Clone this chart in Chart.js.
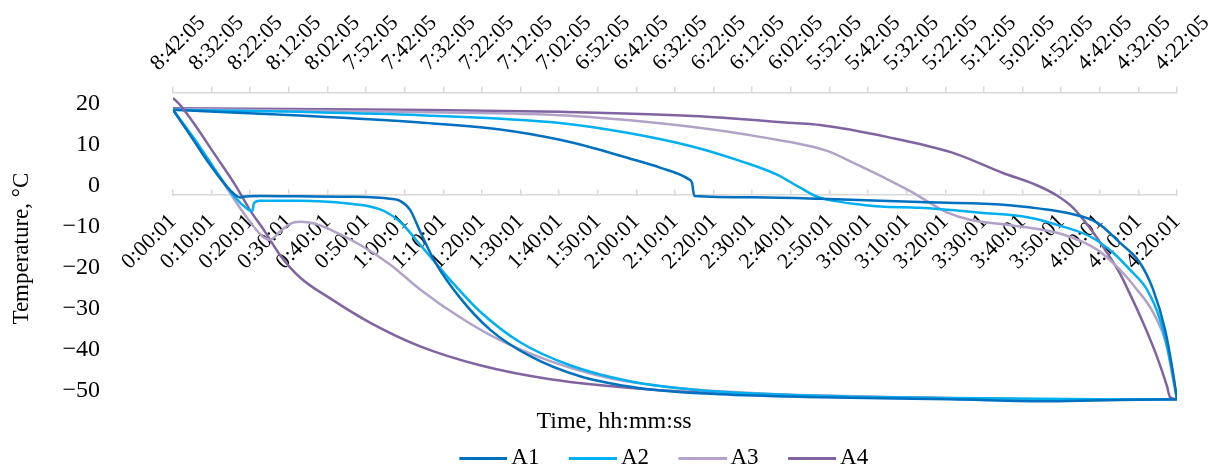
<!DOCTYPE html>
<html>
<head>
<meta charset="utf-8">
<script src="https://cdn.jsdelivr.net/npm/chart.js@4.4.1/dist/chart.umd.min.js"></script>
<style>
  html, body { margin: 0; padding: 0; background: #fff; }
  #wrap { width: 1228px; height: 468px; }
</style>
</head>
<body>
<div id="wrap"><canvas id="myChart" width="1228" height="468"></canvas></div>
<script>
// cooling runs (bottom axis, minutes since 0:00:01)
const coolA1Time = [0, 4.4, 9.6, 14.7, 17.4, 18.1, 22.5, 32.9, 45.8, 56.2, 58.8, 61.4, 64, 67.8, 74.3, 82.1, 92.5, 105.4, 120.9, 141.7, 167.6, 201.2, 227.1, 245.2, 260];
const coolA1Temp = [18.4, 12.3, 5.0, -1.1, -3.0, -2.8, -2.6, -2.7, -2.8, -3.3, -3.8, -6.0, -11.3, -18.6, -27.4, -35.2, -41.7, -46.6, -49.5, -51.0, -51.7, -52.2, -52.7, -52.4, -52.2];

const coolA2Time = [0, 5.7, 10.9, 16.1, 19.4, 20.5, 21.0, 22.5, 32.9, 45.8, 51, 54.9, 58.8, 64, 71.7, 79.5, 89.9, 102.8, 118.3, 136.5, 162.4, 201, 240, 260];
const coolA2Temp = [18.4, 11.1, 3.8, -3.0, -5.9, -6.4, -4.3, -3.8, -3.8, -4.5, -5.2, -6.4, -8.9, -14.5, -23.0, -30.8, -38.3, -43.9, -47.8, -50.0, -51.2, -51.9, -52.2, -52.2];

const coolA3Time = [0, 5.7, 12.2, 18.6, 23, 25.1, 27.7, 30.3, 32.9, 36.8, 40.7, 48.4, 56.2, 64, 74.3, 84.7, 97.7, 113.2, 131.3, 157.2, 188.3, 227.1, 260];
const coolA3Temp = [18.4, 10.6, 1.8, -7.2, -12.3, -13.3, -11.3, -9.4, -8.9, -9.4, -10.8, -14.5, -19.3, -25.4, -32.2, -37.8, -42.9, -47.1, -49.5, -51.0, -51.7, -52.2, -52.2];

const coolA4Time = [0, 1.8, 5.7, 10.9, 16.1, 19.9, 23.8, 27.7, 32.9, 40.7, 51, 64, 79.5, 97.7, 123.5, 149.4, 188.3, 227.1, 260];
const coolA4Temp = [21.3, 19.6, 14.7, 7.4, 0.1, -6.0, -11.3, -17.0, -22.5, -27.6, -33.5, -39.3, -43.9, -47.3, -49.8, -51.0, -51.7, -52.2, -52.2];

// warming runs (top axis, minutes since 4:22:05)
const warmA1Time = [0, 1.3, 3.1, 6.2, 9.6, 14.8, 20.7, 27.7, 35.5, 45.8, 66.5, 92.4, 110, 125.0, 125.6, 126.5, 133.9, 142.4, 151.2, 159.8, 175.3, 196, 227.1, 260];
const warmA1Temp = [-52.2, -44.2, -35.2, -25.4, -18.9, -14.0, -9.1, -6.9, -5.7, -4.7, -4.1, -3.3, -2.9, -2.6, 0.6, 1.5, 4.3, 6.7, 9.1, 11.1, 13.6, 15.3, 17.0, 18.4];

const warmA2Time = [0, 1.3, 4.4, 7.8, 12.2, 16.6, 22.5, 29.5, 38.1, 51, 66.6, 76.9, 82.1, 90.6, 93.2, 97.6, 103.6, 112.4, 125.3, 142.4, 159.8, 196, 227.1, 260];
const warmA2Temp = [-52.2, -45, -32.8, -25.4, -20.6, -16.4, -12.5, -10.1, -7.9, -6.7, -5.5, -5.2, -4.7, -3.5, -2.8, -0.6, 2.6, 5.7, 9.4, 12.8, 15.2, 17.1, 17.9, 18.4];

const warmA3Time = [0, 1.3, 2.6, 6.2, 10.4, 14.8, 20.7, 29.5, 42.5, 53.6, 59.6, 64, 68.4, 75.1, 83.9, 90.6, 108, 125.3, 142.4, 159.8, 201.2, 260];
const warmA3Temp = [-52.2, -46, -39.3, -31, -25.4, -20.6, -15.7, -12.0, -9.8, -8.4, -6.6, -4.3, -1.8, 1.5, 5.5, 8.4, 11.8, 14.2, 15.9, 17.1, 17.9, 18.6];

const warmA4Time = [0, 1.8, 2.6, 5.2, 8.8, 12.2, 14.8, 18.1, 22.5, 26.9, 31.1, 36.3, 45.1, 58, 75.1, 92.4, 99.4, 125.3, 159.8, 201.2, 260];
const warmA4Temp = [-52.2, -51.7, -49, -41.8, -33.5, -26.5, -21.5, -16.5, -10.5, -5.5, -2.5, 0, 3.0, 7.9, 11.8, 14.7, 15.2, 16.9, 17.9, 18.4, 18.8];

const names = ['A1', 'A2', 'A3', 'A4'];
const colors = ['#0070C0', '#00B0F0', '#B3A2C7', '#8064A2'];
const coolTimes = [coolA1Time, coolA2Time, coolA3Time, coolA4Time];
const coolTemps = [coolA1Temp, coolA2Temp, coolA3Temp, coolA4Temp];
const warmTimes = [warmA1Time, warmA2Time, warmA3Time, warmA4Time];
const warmTemps = [warmA1Temp, warmA2Temp, warmA3Temp, warmA4Temp];

const yTicks = [20, 10, 0, -10, -20, -30, -40, -50];

function pad(n) { return n < 10 ? '0' + n : '' + n; }
function hms(sec) {
    let h = Math.floor(sec / 3600);
    let m = Math.floor((sec % 3600) / 60);
    let s = sec % 60;
    return h + ':' + pad(m) + ':' + pad(s);
}

function series(times, temps) {
    return times.map((t, i) => ({ x: t, y: temps[i] }));
}

// legend swatch: a short line that sits close to the text
function legendLine(color) {
    let c = document.createElement('canvas');
    c.width = 63;
    c.height = 3;
    let g = c.getContext('2d');
    g.fillStyle = color;
    g.fillRect(15, 0, 48, 3);
    return c;
}

let datasets = [];
names.forEach((n, i) => {
    datasets.push({
        label: n,
        data: series(coolTimes[i], coolTemps[i]),
        xAxisID: 'x',
        borderColor: colors[i],
        backgroundColor: colors[i],
        borderWidth: 2.5,
        pointRadius: 0,
        pointStyle: legendLine(colors[i]),
        cubicInterpolationMode: 'monotone',
        fill: false
    });
});
names.forEach((n, i) => {
    datasets.push({
        label: n + ' warm',
        data: series(warmTimes[i], warmTemps[i]),
        xAxisID: 'x2',
        borderColor: colors[i],
        backgroundColor: colors[i],
        borderWidth: 2.5,
        pointRadius: 0,
        cubicInterpolationMode: 'monotone',
        fill: false
    });
});

// nudge the legend a little left of the plot centre
const legendShift = {
    id: 'legendShift',
    afterLayout(chart) {
        chart.legend.left -= 15;
        chart.legend.right -= 15;
    }
};

Chart.defaults.font.family = '"Liberation Serif", "Times New Roman", serif';
Chart.defaults.color = '#000';

const ctx = document.getElementById('myChart').getContext('2d');
const myChart = new Chart(ctx, {
    type: 'line',
    data: { datasets: datasets },
    plugins: [legendShift],
    options: {
        responsive: false,
        animation: false,
        layout: { padding: { top: 0, left: 0, right: 0, bottom: -11.5 } },
        plugins: {
            legend: {
                position: 'bottom',
                fullSize: false,
                labels: {
                    usePointStyle: true,
                    pointStyleWidth: 48,
                    font: { size: 23 },
                    padding: 22,
                    filter: item => item.datasetIndex < 4
                }
            },
            title: {
                display: true,
                position: 'bottom',
                text: 'Time, hh:mm:ss',
                weight: 500,
                font: { size: 24, weight: 'normal' },
                padding: { top: 3, bottom: -11.9 }
            },
            tooltip: { enabled: false }
        },
        scales: {
            y: {
                type: 'linear',
                position: 'left',
                min: -53.5,
                max: 22.6,
                afterBuildTicks: scale => {
                    scale.ticks = yTicks.map(v => ({ value: v }));
                },
                afterFit: scale => {
                    scale.width = 173;
                },
                ticks: {
                    font: { size: 24 },
                    padding: 3,
                    callback: v => String(v).replace('-', '\u2212')
                },
                // hidden tick marks only push the labels away from the plot
                grid: { display: false, drawTicks: true, tickLength: 70 },
                border: { display: false },
                title: {
                    display: true,
                    text: 'Temperature, \u00B0C',
                    font: { size: 23 },
                    padding: { top: 8, bottom: 4 }
                }
            },
            x: {
                type: 'linear',
                position: { y: -2.3 },
                min: 0,
                max: 260,
                ticks: {
                    stepSize: 10,
                    autoSkip: false,
                    minRotation: 45,
                    maxRotation: 45,
                    font: { size: 22 },
                    padding: 20,
                    callback: v => hms(Math.round(v * 60) + 1)
                },
                grid: { drawOnChartArea: false, color: '#d9d9d9', lineWidth: 1.5, tickLength: -6 },
                border: { color: '#d9d9d9', width: 1.5 }
            },
            x2: {
                type: 'linear',
                axis: 'x',
                position: 'top',
                reverse: true,
                min: 0,
                max: 260,
                afterFit: scale => {
                    scale.paddingRight = 51;
                },
                ticks: {
                    stepSize: 10,
                    autoSkip: false,
                    minRotation: 45,
                    maxRotation: 45,
                    font: { size: 22 },
                    padding: 10.2,
                    callback: v => hms(262 * 60 + 5 + Math.round(v * 60))
                },
                grid: { drawOnChartArea: false, color: '#d9d9d9', lineWidth: 1.5, tickLength: 6 },
                border: { color: '#d9d9d9', width: 1.5 }
            }
        }
    }
});
</script>
</body>
</html>
